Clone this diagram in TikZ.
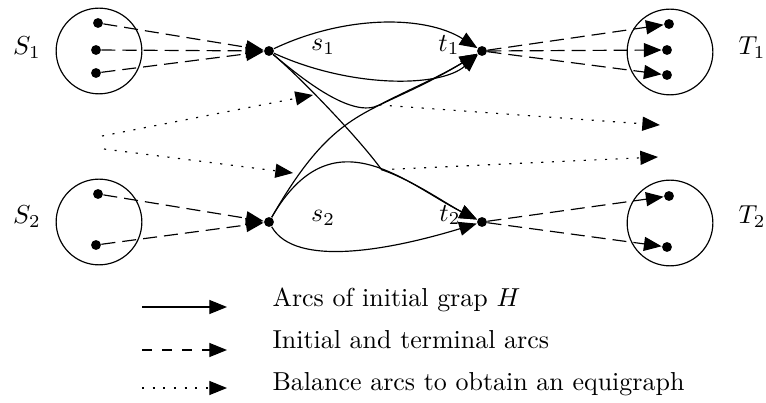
\documentclass[tikz,border=0pt]{standalone}
\usetikzlibrary{arrows.meta}
\begin{document}
\begin{tikzpicture}[x=0.385pt, y=-0.385pt,
  vtx/.style={circle, fill=black, inner sep=0pt, minimum size=3.8pt},
  setc/.style={circle, draw, line width=0.45pt, inner sep=0pt, minimum size=33pt},
  arcbase/.style={-{Triangle[length=6.8pt,width=5.4pt]}, line width=0.45pt},
  hedge/.style={arcbase},
  iarc/.style={arcbase, dash pattern=on 5.4pt off 2.7pt},
  iarcleg/.style={arcbase, dash pattern=on 3.85pt off 3.85pt},
  barc/.style={arcbase, dash pattern=on 0.8pt off 3.3pt},
  lbl/.style={inner sep=0pt}]
\useasboundingbox (0,0) rectangle (766,403);

% sets
\node[setc] (S1c) at (99,51) {};
\node[setc] (S2c) at (99,222) {};
\node[setc] (T1c) at (670,52) {};
\node[setc] (T2c) at (670,223) {};
\node[lbl] (S1l) at (27,48) {$S_1$};
\node[lbl] (S2l) at (27,217) {$S_2$};
\node[lbl] (T1l) at (752,48) {$T_1$};
\node[lbl] (T2l) at (752,217) {$T_2$};

% vertices in sets
\node[vtx] (a1) at (98,23) {};
\node[vtx] (a2) at (96,50) {};
\node[vtx] (a3) at (96,73) {};
\node[vtx] (a4) at (98,194) {};
\node[vtx] (a5) at (96,245) {};
\node[vtx] (b1) at (669,24) {};
\node[vtx] (b2) at (667,50) {};
\node[vtx] (b3) at (667,75) {};
\node[vtx] (b4) at (669,196) {};
\node[vtx] (b5) at (667,247) {};

% s and t vertices
\node[vtx] (s1) at (269,51) {};
\node[vtx] (s2) at (269,222) {};
\node[vtx] (t1) at (482,51) {};
\node[vtx] (t2) at (482,222) {};
\node[lbl] (s1l) at (323,47) {$s_1$};
\node[lbl] (s2l) at (323,218) {$s_2$};
\node[lbl] (t1l) at (449,45) {$t_1$};
\node[lbl] (t2l) at (450,215) {$t_2$};

% initial and terminal arcs
\draw[iarc] (a1) -- (s1);
\draw[iarc] (a2) -- (s1);
\draw[iarc] (a3) -- (s1);
\draw[iarc] (a4) -- (s2);
\draw[iarc] (a5) -- (s2);
\draw[iarc] (t1) -- (b1);
\draw[iarc] (t1) -- (b2);
\draw[iarc] (t1) -- (b3);
\draw[iarc] (t2) -- (b4);
\draw[iarc] (t2) -- (b5);

% junction points where arcs of H merge
\coordinate (j1) at (379.2,105);
\coordinate (j2) at (381.6,169.7);

% arcs of H
\draw[hedge] (s1) .. controls (345,15) and (425,15) .. (t1);
\draw[hedge] (s1) .. controls (350,88) and (440,88) .. (t1);
\draw[hedge] (s2) .. controls (339,100) and (371,118) .. (t1);
\draw[hedge] (s1) .. controls (303.5,80) and (352.6,119) .. (j1)
                  .. controls (405.8,91) and (437.6,77.8) .. (t1);
\draw[hedge] (s2) .. controls (332.5,112) and (406,184) .. (t2);
\draw[hedge] (s1) .. controls (299.6,76.7) and (358.1,137.3) .. (j2)
                  .. controls (414.1,180.9) and (447.8,204.9) .. (t2);
\draw[hedge] (s2) .. controls (295,268) and (390,250) .. (t2);

% balance arcs
\coordinate (p1) at (102,136); \coordinate (q1) at (313,95);
\coordinate (p2) at (104,149); \coordinate (q2) at (293,173);
\coordinate (q3) at (660,125);
\coordinate (q4) at (658,157);
\draw[barc] (p1) -- (q1);
\draw[barc] (p2) -- (q2);
\draw[barc] (j1) -- (q3);
\draw[barc] (j2) -- (q4);

% legend
\coordinate (l1a) at (142,307); \coordinate (l1b) at (227,307);
\coordinate (l2a) at (142,350); \coordinate (l2b) at (227,350);
\coordinate (l3a) at (142,388); \coordinate (l3b) at (227,388);
\draw[hedge] (l1a) -- (l1b);
\draw[iarcleg] (l2a) -- (l2b);
\draw[barc] (l3a) -- (l3b);
\node[lbl, anchor=base west] (lt1) at (272,307) {Arcs of initial grap $H$};
\node[lbl, anchor=base west] (lt2) at (272,348) {Initial and terminal arcs};
\node[lbl, anchor=base west] (lt3) at (272,390) {Balance arcs to obtain an equigraph};
\end{tikzpicture}
\end{document}
